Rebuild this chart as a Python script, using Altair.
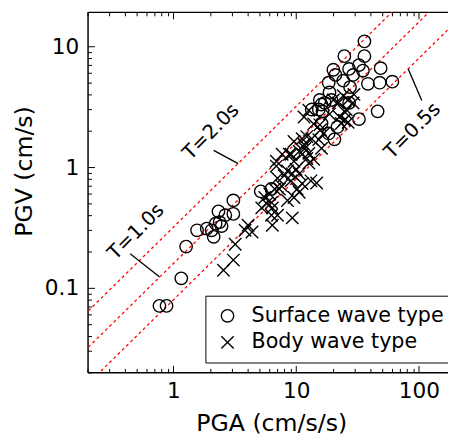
import altair as alt
import pandas as pd

FONT = "DejaVu Sans"

# ---------------- data ----------------
# Surface wave type (open circles)
surf_pga = [0.77, 0.88, 1.16, 1.27, 1.56, 1.87, 2.05, 2.13, 2.21, 2.38, 2.47, 2.33, 2.65, 3.08, 3.08, 5.15, 6.3,
            36, 36, 24.7, 20.1, 20.9, 18.4, 24.2, 27, 29.1, 32.5, 35, 38.4, 48.8, 47.9, 60.8, 46.1,
            15.6, 16.1, 15.3, 16.4, 17.1, 13.4, 19.4, 18.7, 18.4, 20.5, 16.1, 21.7, 32.5, 27, 27.5]
surf_pgv = [0.071, 0.071, 0.12, 0.22, 0.30, 0.31, 0.30, 0.265, 0.34, 0.35, 0.325, 0.43, 0.40, 0.41, 0.53, 0.63, 0.66,
            11.0, 8.3, 8.3, 6.4, 5.8, 5.0, 5.2, 6.5, 5.8, 7.0, 6.3, 4.9, 6.6, 5.0, 5.1, 2.9,
            3.6, 3.3, 3.0, 2.9, 3.4, 3.0, 3.6, 4.15, 1.9, 1.7, 2.3, 2.15, 2.5, 3.4, 4.6]

# Body wave type (crosses)
body_pga = [2.56, 3.08, 3.19, 3.84, 4.06, 4.37, 6.4, 6.3, 7.05, 9.3,
            5.25, 5.75, 6.3, 6.4, 5.55, 6.1, 6.7, 7.3, 7.05, 8.0,
            6.9, 6.9, 9.1, 8.5, 9.3, 10, 10.6, 9.1, 11.2, 10.6,
            13.2, 14.7, 13.9, 12.7, 10.2, 9.6, 8.5, 7.6, 12.2, 11.2,
            12.7, 12.2, 11.6, 15.3, 16.1, 16.7, 11.6, 11.2, 11.8, 13.4,
            15.6, 12.7, 9.6, 8.8, 7.7, 9.6, 10.6, 18.7, 24.2, 26.5,
            25.6, 29.6, 29.1, 22.5, 24.7, 20.1, 22.1, 25.1, 23.3, 26.5,
            13.9, 15.8]
body_pgv = [0.14, 0.17, 0.23, 0.30, 0.33, 0.29, 0.33, 0.40, 0.40, 0.38,
            0.46, 0.50, 0.51, 0.46, 0.56, 0.60, 0.66, 0.66, 0.81, 0.85,
            1.02, 1.12, 1.28, 0.93, 0.88, 0.96, 0.88, 0.77, 0.73, 0.62,
            0.77, 0.74, 1.16, 1.30, 0.66, 0.56, 0.53, 0.70, 1.18, 1.28,
            1.08, 1.79, 1.54, 1.69, 1.43, 1.89, 2.6, 1.72, 1.43, 1.72,
            2.24, 2.96, 1.63, 1.28, 1.28, 1.12, 1.35, 2.75, 3.9, 3.6,
            3.0, 4.0, 3.4, 2.6, 2.45, 3.6, 3.4, 2.85, 2.3, 2.35,
            2.28, 2.04]

types = ["Surface wave type", "Body wave type"]

# Constant-period reference lines PGV = PGA * T / (2*pi), endpoints
line_T = ["0.5", "1.0", "2.0"]
line_pga = [0.1, 300]
line_pgv = {"0.5": [0.00796, 23.9], "1.0": [0.0159, 47.7], "2.0": [0.0318, 95.5]}

# Annotations
ann_text = ["T=2.0s", "T=1.0s", "T=0.5s"]
ann_pga = [2.03, 0.497, 88.7]
ann_pgv = [1.96, 0.291, 2.0]
ptr_pga0 = [2.13, 0.445, 81.8]
ptr_pgv0 = [1.375, 0.192, 6.51]
ptr_pga1 = [3.37, 0.773, 105.5]
ptr_pgv1 = [1.07, 0.123, 3.57]

# Tick values
x_major = [1, 10, 100]
x_minor = [0.2, 0.3, 0.4, 0.5, 0.6, 0.7, 0.8, 0.9,
           2, 3, 4, 5, 6, 7, 8, 9,
           20, 30, 40, 50, 60, 70, 80, 90]
y_major = [0.1, 1, 10]
y_minor = [0.02, 0.03, 0.04, 0.05, 0.06, 0.07, 0.08, 0.09,
           0.2, 0.3, 0.4, 0.5, 0.6, 0.7, 0.8, 0.9,
           2, 3, 4, 5, 6, 7, 8, 9]

# ---------------- tables ----------------
scatter_df = pd.concat([
    pd.DataFrame({"PGA": surf_pga, "PGV": surf_pgv, "type": types[0]}),
    pd.DataFrame({"PGA": body_pga, "PGV": body_pgv, "type": types[1]}),
], ignore_index=True)

lines_df = pd.concat([
    pd.DataFrame({"PGA": line_pga, "PGV": line_pgv[t], "T": t}) for t in line_T
], ignore_index=True)

ann_df = pd.DataFrame({"PGA": ann_pga, "PGV": ann_pgv, "label": ann_text})
ptr_df = pd.DataFrame({"x0": ptr_pga0, "y0": ptr_pgv0, "x1": ptr_pga1, "y1": ptr_pgv1})

# ---------------- scales / axes ----------------
xscale = alt.Scale(type="log", domain=[0.2, 172.6], nice=False)
yscale = alt.Scale(type="log", domain=[0.02, 19.3], nice=False)

common = dict(grid=False, tickColor="black", tickWidth=1, domainColor="black",
              domainWidth=1.5, labelFont=FONT, labelFontSize=22, labelColor="black")


def tick_axis(orient, values, size):
    return alt.Axis(orient=orient, values=values, tickSize=alt.ExprRef(expr=str(-size)),
                    domain=False, labels=False, title=None, **common)


main_x = alt.Axis(orient="bottom", values=x_major, format="~g",
                  tickSize=alt.ExprRef(expr="-7"), labelPadding=16, domain=True,
                  title="PGA (cm/s/s)", titleFont=FONT, titleFontSize=24,
                  titleFontWeight="normal", titleColor="black",
                  titleX=187, titleY=52, titleAlign="center", titleBaseline="middle",
                  **common)
main_y = alt.Axis(orient="left", values=y_major, format="~g",
                  tickSize=alt.ExprRef(expr="-7"), labelPadding=16, domain=True,
                  title="PGV (cm/s)", titleFont=FONT, titleFontSize=24,
                  titleFontWeight="normal", titleColor="black",
                  titleX=-64, titleY=162, titleAngle=270, titleAlign="center",
                  titleBaseline="middle", **common)
top_major = alt.Axis(orient="top", values=x_major, tickSize=alt.ExprRef(expr="-7"),
                     domain=True, labels=False, title=None, **common)

lines = alt.Chart(lines_df).mark_line(
    color="#ff0000", strokeDash=[3, 3], strokeWidth=1.3, clip=True
).encode(
    x=alt.X("PGA:Q", scale=xscale, axis=main_x),
    y=alt.Y("PGV:Q", scale=yscale, axis=main_y),
    detail="T:N",
)

points = alt.Chart(scatter_df).mark_point(
    filled=False, color="black", strokeWidth=1.4, size=160, opacity=1, clip=True
).encode(
    x=alt.X("PGA:Q", scale=xscale, axis=tick_axis("bottom", x_minor, 4)),
    y=alt.Y("PGV:Q", scale=yscale, axis=tick_axis("left", y_minor, 4)),
    shape=alt.Shape(
        "type:N",
        scale=alt.Scale(domain=types, range=["circle", "M-1,-1L1,1M-1,1L1,-1"]),
        legend=alt.Legend(
            orient="none", legendX=120, legendY=289, title=None,
            labelFont=FONT, labelFontSize=21, labelColor="black",
            labelLimit=600,
            symbolSize=160, symbolStrokeWidth=1.4, symbolStrokeColor="black",
            symbolOffset=2, labelOffset=14, padding=10, rowPadding=5,
            strokeColor="black", fillColor="white", cornerRadius=0,
        ),
    ),
)

texts = alt.Chart(ann_df).mark_text(
    font=FONT, fontSize=20, angle=315, align="center", baseline="middle", color="black"
).encode(
    x=alt.X("PGA:Q", scale=xscale, axis=top_major),
    y=alt.Y("PGV:Q", scale=yscale, axis=None),
    text="label:N",
)

pointers = alt.Chart(ptr_df).mark_rule(color="black", strokeWidth=1.3).encode(
    x=alt.X("x0:Q", scale=xscale, axis=tick_axis("top", x_minor, 4)),
    x2="x1:Q",
    y=alt.Y("y0:Q", scale=yscale, axis=None),
    y2="y1:Q",
)

chart = alt.layer(lines, points, texts, pointers).resolve_axis(
    x="independent", y="independent"
).properties(
    width=367, height=367,
    autosize=alt.AutoSizeParams(type="none"),
    padding={"left": 81, "top": 0, "right": 0, "bottom": 67},
).configure_view(strokeWidth=0)

chart.save("out.html", embed_options={"renderer": "svg", "actions": False})
